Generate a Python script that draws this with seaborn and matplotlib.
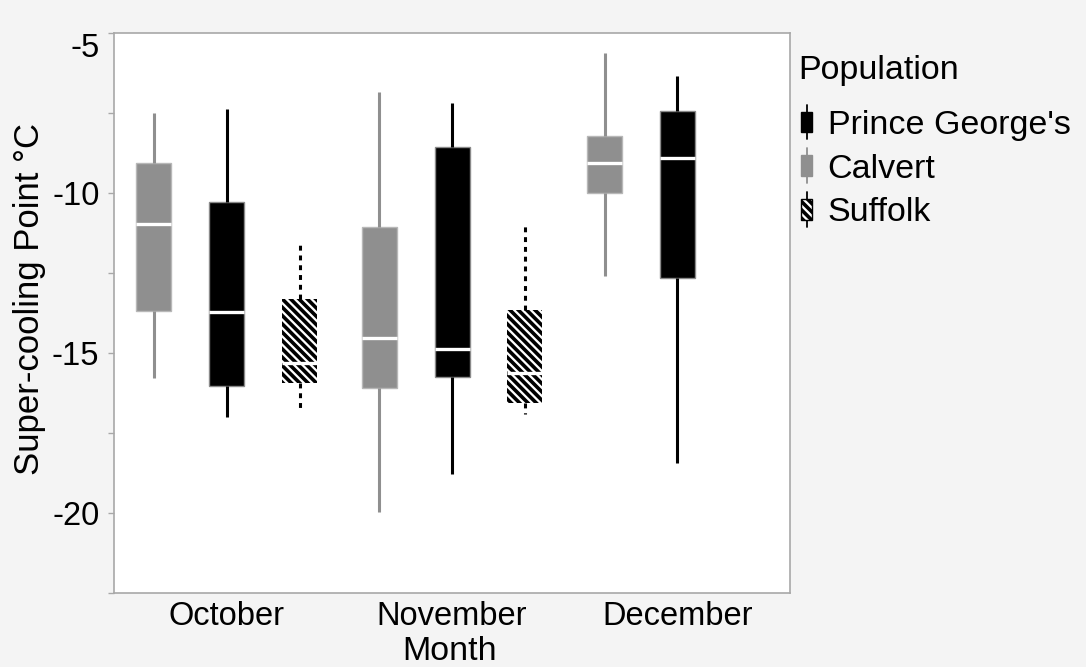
import pandas as pd
import matplotlib
matplotlib.use("Agg")
import matplotlib.pyplot as plt
import seaborn as sns
from matplotlib.legend_handler import HandlerBase
from matplotlib.lines import Line2D
from matplotlib.patches import Rectangle

MONTHS = ["October", "November", "December"]
POPULATIONS = ["Calvert", "Prince George's", "Suffolk"]
LEGEND_ORDER = ["Prince George's", "Calvert", "Suffolk"]

# five-number summaries (whisker low, Q1, median, Q3, whisker high)
CALVERT_MONTHS = ["October", "November", "December"]
CALVERT_LOW = [-15.77, -19.98, -12.58]
CALVERT_Q1 = [-13.68, -16.10, -9.99]
CALVERT_MED = [-10.97, -14.54, -9.07]
CALVERT_Q3 = [-9.05, -11.05, -8.21]
CALVERT_HIGH = [-7.49, -6.85, -5.62]

PG_MONTHS = ["October", "November", "December"]
PG_LOW = [-16.99, -18.79, -18.45]
PG_Q1 = [-16.03, -15.76, -12.67]
PG_MED = [-13.73, -14.88, -8.92]
PG_Q3 = [-10.29, -8.55, -7.44]
PG_HIGH = [-7.39, -7.19, -6.33]

SUFFOLK_MONTHS = ["October", "November"]
SUFFOLK_LOW = [-16.83, -16.90]
SUFFOLK_Q1 = [-15.93, -16.57]
SUFFOLK_MED = [-15.32, -15.62]
SUFFOLK_Q3 = [-13.31, -13.66]
SUFFOLK_HIGH = [-11.55, -10.95]

Y_TICKS = [-5, -10, -15, -20]
Y_TICK_LABELS = ["-5", "-10", "-15", "-20"]
Y_MINOR = [-7.5, -12.5, -17.5, -22.5]

GRAY = "#8f8f8f"
STYLE = {
    "Calvert": dict(face=GRAY, line=GRAY, edge="#b8b8b8", ls="-", hatch=None),
    "Prince George's": dict(face="black", line="black", edge="#8a8a8a", ls="-", hatch=None),
    "Suffolk": dict(face="white", line="black", edge="black", ls=(0, (1.6, 1.6)), hatch="\\\\\\\\"),
}


def build_frame():
    groups = [
        ("Calvert", CALVERT_MONTHS, [CALVERT_LOW, CALVERT_Q1, CALVERT_MED, CALVERT_Q3, CALVERT_HIGH]),
        ("Prince George's", PG_MONTHS, [PG_LOW, PG_Q1, PG_MED, PG_Q3, PG_HIGH]),
        ("Suffolk", SUFFOLK_MONTHS, [SUFFOLK_LOW, SUFFOLK_Q1, SUFFOLK_MED, SUFFOLK_Q3, SUFFOLK_HIGH]),
    ]
    rows = []
    for pop, months, parts in groups:
        for i, month in enumerate(months):
            for part in parts:
                rows.append({"Month": month, "Population": pop, "SCP": part[i]})
    return pd.DataFrame(rows)


class BoxIcon(HandlerBase):
    def create_artists(self, legend, orig, xdescent, ydescent, width, height, fontsize, trans):
        st = STYLE[orig.get_label()]
        cx = -xdescent + width / 2
        cy = -ydescent + height / 2
        bw, bh = 8, 15
        whisker = Line2D([cx, cx], [cy - 12.5, cy + 12.5], color=st["line"], lw=1.3, transform=trans)
        box = Rectangle((cx - bw / 2, cy - bh / 2), bw, bh, facecolor=st["face"],
                        edgecolor=st["line"], hatch=st["hatch"], lw=1, transform=trans)
        return [whisker, box]


def main():
    sns.set_theme(style="white")
    plt.rcParams["font.family"] = ["Liberation Sans", "DejaVu Sans"]
    plt.rcParams["hatch.linewidth"] = 2.6
    plt.rcParams["text.color"] = "black"
    plt.rcParams["axes.labelcolor"] = "black"
    plt.rcParams["xtick.color"] = "black"
    plt.rcParams["ytick.color"] = "black"

    df = build_frame()
    fig = plt.figure(figsize=(10.86, 6.67), dpi=100)
    fig.patch.set_facecolor("#f4f4f4")
    ax = fig.add_axes([0.105, 0.111, 0.6225, 0.8395])
    ax.set_facecolor("white")

    palette = {p: STYLE[p]["face"] for p in POPULATIONS}
    for pop in POPULATIONS:
        st = STYLE[pop]
        n_before = len(ax.patches)
        sns.boxplot(data=df[df["Population"] == pop], x="Month", y="SCP", hue="Population",
                    order=MONTHS, hue_order=POPULATIONS, palette=palette, dodge=True,
                    width=0.97, gap=0.52, whis=(0, 100), showcaps=False, showfliers=False,
                    linecolor=st["line"], linewidth=2.2, legend=False,
                    medianprops=dict(color="white", linewidth=2.4),
                    whiskerprops=dict(color=st["line"], linestyle=st["ls"], linewidth=2.2),
                    ax=ax)
        for patch in ax.patches[n_before:]:
            patch.set_facecolor(st["face"])
            patch.set_edgecolor(st["edge"])
            if st["hatch"]:
                patch.set_hatch(st["hatch"])
                patch.set_linewidth(0)
            else:
                patch.set_linewidth(1)

    ax.set_ylim(-22.5, -5)
    ax.set_xlim(-0.5, 2.5)
    ax.set_yticks(Y_TICKS, Y_TICK_LABELS)
    ax.set_yticks(Y_MINOR, minor=True)

    spine_color = "#a8a8a8"
    for s in ax.spines.values():
        s.set_color(spine_color)
        s.set_linewidth(1.2)
        s.set_visible(True)
    ax.tick_params(axis="y", which="both", direction="out", length=4.5, width=1,
                   color=spine_color, labelcolor="black", labelsize=23.5, pad=6, left=True)
    ax.tick_params(axis="x", length=0, labelsize=23.5, labelcolor="black", pad=6)

    ax.set_xlabel("Month", fontsize=24.5, color="black")
    ax.set_ylabel("Super-cooling Point °C", fontsize=25, color="black")
    ax.xaxis.set_label_coords(0.497, -0.077)
    ax.yaxis.set_label_coords(-0.10, 0.525)

    fig.text(798 / 1086, 1 - 71 / 667, "Population", fontsize=24.5, color="black",
             ha="left", va="center")
    handles = [Rectangle((0, 0), 1, 1, label=p) for p in LEGEND_ORDER]
    fig.legend(handles=handles, labels=LEGEND_ORDER,
               handler_map={h: BoxIcon() for h in handles},
               loc="upper left", bbox_to_anchor=(798 / 1086, 1 - 109 / 667), frameon=False,
               fontsize=24.5, labelcolor="black",
               handlelength=0.5, handleheight=0.8, handletextpad=0.37,
               labelspacing=0.35, borderpad=0, borderaxespad=0)

    # the top tick label sits below its tick in the original
    fig.canvas.draw()
    for tick in ax.yaxis.get_major_ticks():
        if tick.label1.get_text() == "-5":
            tick.label1.set_verticalalignment("top")

    fig.savefig("out.png", dpi=100, facecolor=fig.get_facecolor())


if __name__ == "__main__":
    main()
